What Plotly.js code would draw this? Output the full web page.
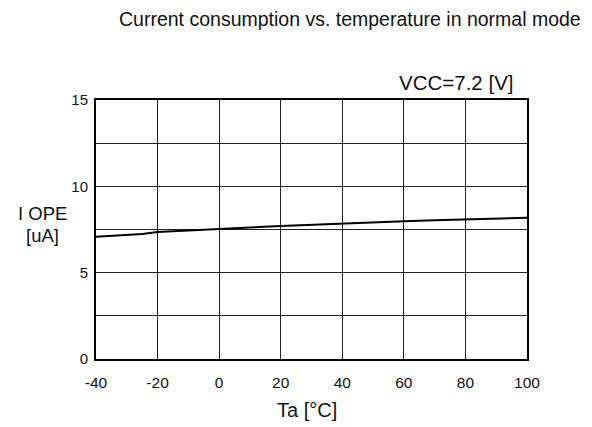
<!DOCTYPE html>
<html>
<head>
<meta charset="utf-8">
<script src="https://cdn.plot.ly/plotly-3.0.1.min.js"></script>
<style>html,body{margin:0;padding:0;background:#fff;}#chart{width:592px;height:427px;}</style>
</head>
<body>
<div id="chart"></div>
<script>
const temperature = [-40, -35, -30, -25, -20, -10, 0, 10, 20, 30, 40, 50, 60, 70, 80, 90, 100];
const currentUA = [7.08, 7.12, 7.19, 7.24, 7.35, 7.45, 7.53, 7.62, 7.70, 7.78, 7.86, 7.93, 7.98, 8.03, 8.08, 8.13, 8.18];
const yTickVals = [0, 2.5, 5, 7.5, 10, 12.5, 15];
const yTickText = ['0', '', '5', '', '10', '', '15'];
const xTickVals = [-40, -20, 0, 20, 40, 60, 80, 100];
const xTickText = ['-40', '-20', '0', '20', '40', '60', '80', '100'];

const font = 'Liberation Sans, Arial, sans-serif';
Plotly.newPlot('chart', [{
  x: temperature, y: currentUA, mode: 'lines', type: 'scatter',
  line: {color: '#000', width: 2}, hoverinfo: 'none'
}], {
  width: 592, height: 427,
  margin: {l: 96, r: 65, t: 100, b: 68},
  paper_bgcolor: '#fff', plot_bgcolor: '#fff',
  showlegend: false,
  font: {family: font, color: '#111'},
  xaxis: {
    range: [-40, 100], tickvals: xTickVals, ticktext: xTickText, showgrid: true, gridcolor: '#222', gridwidth: 1,
    showline: true, linecolor: '#000', linewidth: 2, mirror: true, zeroline: false,
    ticks: '', tickfont: {size: 15.5, family: font}, ticklabelstandoff: 8, fixedrange: true
  },
  yaxis: {
    range: [0, 15], tickvals: yTickVals, ticktext: yTickText, showgrid: true, gridcolor: '#222', gridwidth: 1,
    showline: true, linecolor: '#000', linewidth: 2, mirror: true, zeroline: false,
    ticks: '', tickfont: {size: 15, family: font}, ticklabelstandoff: 3, fixedrange: true
  },
  annotations: [
    {text: 'Current consumption vs. temperature in normal mode', xref: 'paper', yref: 'paper',
     x: 1.13, y: 1.313, xanchor: 'right', yanchor: 'middle', showarrow: false, font: {size: 19.5, family: font}},
    {text: 'VCC=7.2 [V]', xref: 'paper', yref: 'paper', x: 0.975, y: 1.066, xanchor: 'right', yanchor: 'middle',
     showarrow: false, font: {size: 20.5, family: font}},
    {text: 'I OPE', xref: 'paper', yref: 'paper', x: -0.124, y: 0.563, xanchor: 'center', yanchor: 'middle',
     showarrow: false, font: {size: 18.5, family: font}},
    {text: '[uA]', xref: 'paper', yref: 'paper', x: -0.124, y: 0.478, xanchor: 'center', yanchor: 'middle',
     showarrow: false, font: {size: 18.5, family: font}},
    {text: 'Ta [°C]', xref: 'paper', yref: 'paper', x: 0.49, y: -0.197, xanchor: 'center', yanchor: 'middle',
     showarrow: false, font: {size: 20, family: font}}
  ]
}, {staticPlot: true});
</script>
</body>
</html>
